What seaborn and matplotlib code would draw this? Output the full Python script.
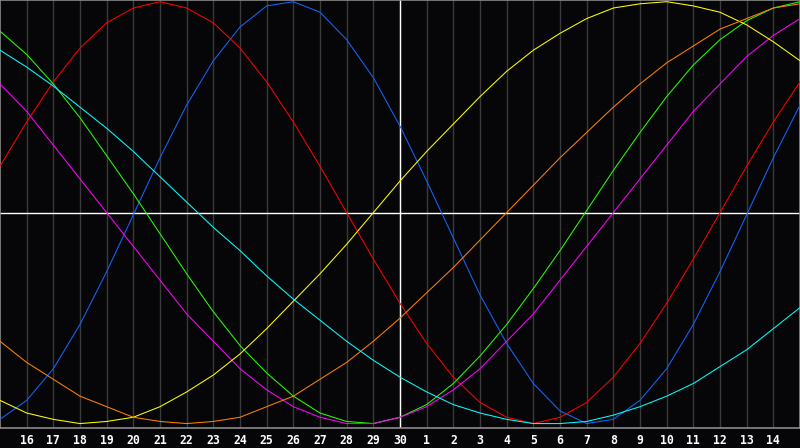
import numpy as np
import pandas as pd
import matplotlib
matplotlib.use("Agg")
import matplotlib.pyplot as plt
import seaborn as sns

# Day labels along the x axis (index 0 = 15th, index 30 = next 15th)
day_labels = ["15", "16", "17", "18", "19", "20", "21", "22", "23", "24", "25", "26", "27",
              "28", "29", "30", "1", "2", "3", "4", "5", "6", "7", "8", "9", "10", "11",
              "12", "13", "14", "15"]
today_index = 15

# Cycle values (percent) read at each day
physical = [-98, -89, -74, -53, -28, -1, 26, 51, 72, 88, 98, 100, 95, 82, 64, 41,
            15, -12, -39, -62, -81, -94, -100, -98, -89, -74, -53, -28, -1, 26, 51]
emotional = [22, 43, 62, 78, 90, 97, 100, 97, 90, 78, 62, 43, 22, 0, -22, -43,
             -62, -78, -90, -97, -100, -97, -90, -78, -62, -43, -22, 0, 22, 43, 62]
intellectual = [86, 75, 61, 45, 27, 9, -10, -29, -47, -63, -76, -87, -95, -99, -100, -97,
                -91, -81, -68, -53, -36, -18, 1, 20, 38, 55, 70, 82, 91, 97, 100]
intuitive = [61, 48, 32, 16, 0, -16, -32, -48, -61, -74, -84, -92, -97, -100, -100, -97,
             -92, -84, -74, -61, -48, -32, -16, 0, 16, 32, 48, 61, 74, 84, 92]
aesthetic = [-89, -95, -98, -100, -99, -97, -92, -85, -77, -67, -55, -42, -29, -15, 0, 15,
             29, 42, 55, 67, 77, 85, 92, 97, 99, 100, 98, 95, 89, 81, 72]
awareness = [-61, -71, -79, -87, -92, -97, -99, -100, -99, -97, -92, -87, -79, -71, -61, -50,
             -38, -26, -13, 0, 13, 26, 38, 50, 61, 71, 79, 87, 92, 97, 99]
spiritual = [77, 69, 60, 50, 40, 29, 17, 5, -7, -18, -30, -41, -51, -61, -70, -78,
             -85, -91, -95, -98, -100, -100, -99, -96, -92, -87, -81, -73, -65, -55, -45]

series = {
    "Physical": physical,
    "Emotional": emotional,
    "Intellectual": intellectual,
    "Intuitive": intuitive,
    "Aesthetic": aesthetic,
    "Awareness": awareness,
    "Spiritual": spiritual,
}
palette = {
    "Physical": "#1464ff",
    "Emotional": "#ff0000",
    "Intellectual": "#22ff00",
    "Intuitive": "#ff00ff",
    "Aesthetic": "#ffff00",
    "Awareness": "#ff8000",
    "Spiritual": "#00ffff",
}

rows = []
for name, vals in series.items():
    for i, v in enumerate(vals):
        rows.append({"day": i, "value": v, "cycle": name})
df = pd.DataFrame(rows)

bg = "#060608"
fig = plt.figure(figsize=(8, 4.48), dpi=100, facecolor=bg)
ax = fig.add_axes([0, 20 / 448, 1, 428 / 448], facecolor=bg)

ticks = list(range(1, len(day_labels) - 1))
ax.set_xticks(ticks)
ax.set_xticklabels([day_labels[i] for i in ticks])
ax.grid(axis="x", color="#3a3a3a", linewidth=1.0, zorder=0)
ax.set_axisbelow(True)

ax.axvline(today_index, color="white", linewidth=1.0, zorder=1)
ax.axhline(0, color="white", linewidth=1.0, zorder=1)

sns.lineplot(data=df, x="day", y="value", hue="cycle", palette=palette,
             hue_order=list(series.keys()), linewidth=0.75, legend=False, ax=ax,
             zorder=3, antialiased=True)

ax.set_xlim(0, len(day_labels) - 1)
ax.set_ylim(-102.1, 100.8)
ax.set_yticks([])
ax.set_xlabel("")
ax.set_ylabel("")
for s in ax.spines.values():
    s.set_color("#8a8a8a")
    s.set_linewidth(1.2)
ax.tick_params(axis="x", length=0, pad=4.5, colors="white", labelsize=8.3)
for lab in ax.get_xticklabels():
    lab.set_fontfamily("DejaVu Sans Mono")
    lab.set_fontweight("bold")

fig.savefig("out.png", dpi=100, facecolor=bg)
